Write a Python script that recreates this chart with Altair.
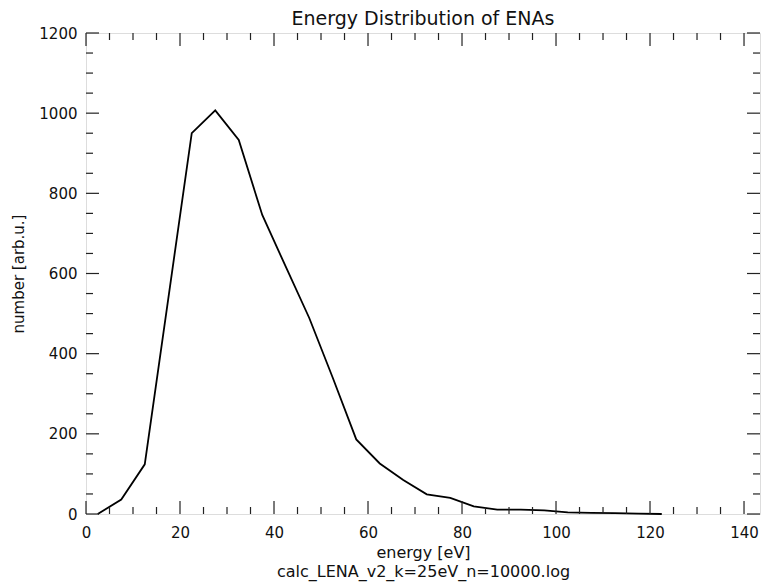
import altair as alt
import pandas as pd

# data
energy = [2.5, 7.5, 12.5, 17.5, 22.5, 27.5, 32.5, 37.5, 42.5, 47.5, 52.5, 57.5,
          62.5, 67.5, 72.5, 77.5, 82.5, 87.5, 92.5, 97.5, 102.5, 107.5, 112.5,
          117.5, 122.5]
number = [0, 36, 124, 537, 950, 1007, 933, 746, 617, 489, 340, 186,
          126, 85, 49, 40, 19, 11, 11, 9, 4, 3, 2, 1, 0]

x_major = [0, 20, 40, 60, 80, 100, 120, 140]
x_minor = [v for v in range(5, 145, 5) if v % 20 != 0]
y_major = [0, 200, 400, 600, 800, 1000, 1200]
y_minor = [v for v in range(50, 1200, 50) if v % 200 != 0]

W, H = 674, 481
FONT = "DejaVu Sans"
MAJ, MIN = 13, 7

df = pd.DataFrame({"energy": energy, "number": number})
xs = alt.Scale(domain=[0, 143.4], nice=False, zero=False)
ys = alt.Scale(domain=[0, 1200], nice=False)

line = alt.Chart(df).mark_line(color="black", strokeWidth=1.8).encode(
    x=alt.X("energy:Q", scale=xs,
            axis=alt.Axis(values=x_major, ticks=False, domain=False, grid=False,
                          format="d",
                          labelFont=FONT, labelFontSize=15, labelColor="#111",
                          labelPadding=11, labelFlush=False,
                          title=["energy [eV]", "calc_LENA_v2_k=25eV_n=10000.log"],
                          titleFont=FONT, titleFontSize=16, titleFontWeight="normal",
                          titleColor="#111", titleLineHeight=19,
                          titleBaseline="top", titleY=30)),
    y=alt.Y("number:Q", scale=ys,
            axis=alt.Axis(values=y_major, ticks=False, domain=False, grid=False,
                          format="d",
                          labelFont=FONT, labelFontSize=15, labelColor="#111",
                          labelPadding=9, labelBaseline="middle",
                          title="number [arb.u.]", titleFont=FONT, titleFontSize=15,
                          titleFontWeight="normal", titleColor="#111",
                          titleX=-60, titleY=H / 2, titleAlign="center",
                          titleBaseline="bottom", titleAngle=-90)),
)

def xticks(vals, L):
    d = pd.DataFrame({"energy": vals})
    b = alt.Chart(d).mark_rule(color="#222", strokeWidth=1.2).encode(
        x=alt.X("energy:Q", scale=xs), y=alt.value(H), y2=alt.value(H - L))
    t = alt.Chart(d).mark_rule(color="#222", strokeWidth=1.2).encode(
        x=alt.X("energy:Q", scale=xs), y=alt.value(0), y2=alt.value(L))
    return [b, t]

def yticks(vals, L):
    d = pd.DataFrame({"number": vals})
    l = alt.Chart(d).mark_rule(color="#222", strokeWidth=1.2).encode(
        y=alt.Y("number:Q", scale=ys), x=alt.value(0), x2=alt.value(L))
    r = alt.Chart(d).mark_rule(color="#222", strokeWidth=1.2).encode(
        y=alt.Y("number:Q", scale=ys), x=alt.value(W), x2=alt.value(W - L))
    return [l, r]

layers = [line] + xticks(x_major, MAJ) + xticks(x_minor, MIN) + \
    yticks(y_major, MAJ) + yticks(y_minor, MIN)

chart = alt.layer(*layers).properties(
    width=W, height=H,
    title=alt.TitleParams("Energy Distribution of ENAs", font=FONT, fontSize=19,
                          fontWeight="normal", color="#111", anchor="middle",
                          frame="group", offset=-3),
    autosize=alt.AutoSizeParams(type="none"),
    padding={"left": 86, "top": 33, "right": 2, "bottom": 69},
).configure_view(stroke="#111", strokeWidth=1.5).configure(background="white")

chart.save("out.html", embed_options={"renderer": "svg", "actions": False})
